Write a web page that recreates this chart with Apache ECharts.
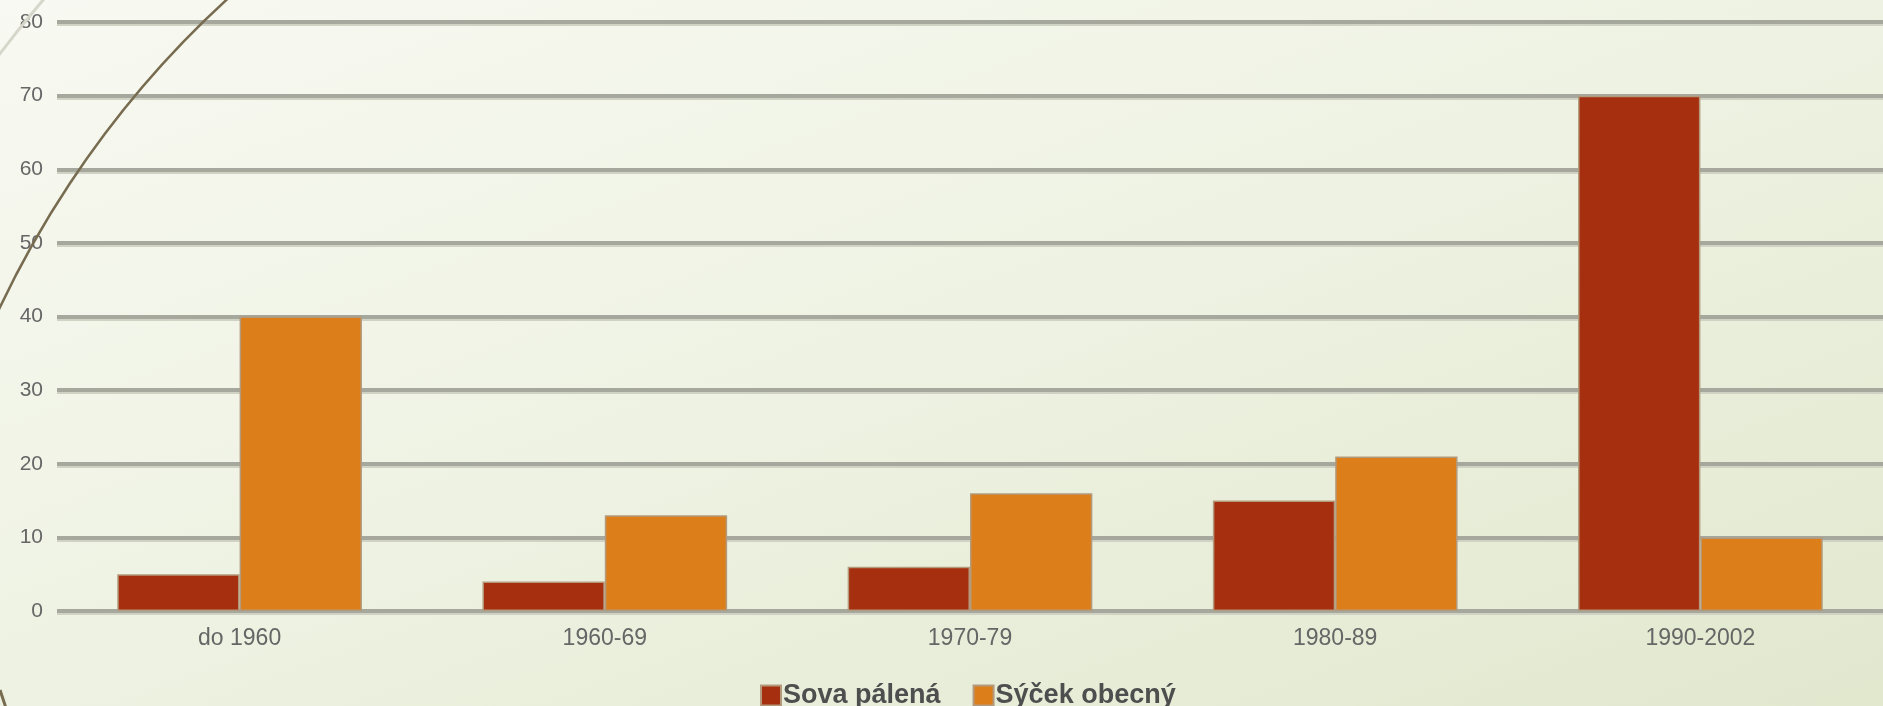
<!DOCTYPE html>
<html>
<head>
<meta charset="utf-8">
<style>
html,body{margin:0;padding:0;width:1883px;height:706px;overflow:hidden;}
body{background:linear-gradient(160deg,#f8f9f2 0%,#eef2e2 50%,#e1e8ce 100%);}
#chart{width:1883px;height:706px;}
</style>
<script src="https://cdn.jsdelivr.net/npm/echarts@6/dist/echarts.min.js"></script>
</head>
<body>
<div id="chart"></div>
<script>
const categories = ['do 1960', '1960-69', '1970-79', '1980-89', '1990-2002'];
const sovaPalena = [5, 4, 6, 15, 70];
const sycekObecny = [40, 13, 16, 21, 10];
const seriesNames = ['Sova pálená', 'Sýček obecný'];

const chart = echarts.init(document.getElementById('chart'), null, {renderer: 'canvas'});
const font = '"Liberation Sans", Arial, sans-serif';
chart.setOption({
  backgroundColor: 'transparent',
  animation: false,
  grid: {left: 57, right: -15, top: 22, bottom: 95, containLabel: false},
  legend: {
    left: 755, top: 677,
    itemWidth: 20, itemHeight: 20, itemGap: 32,
    icon: 'rect',
    textStyle: {fontFamily: font, fontSize: 27, fontWeight: 'bold', color: '#4e4e4e', padding: [0,0,0,-3]},
    data: seriesNames
  },
  xAxis: {
    type: 'category',
    data: categories,
    axisLine: {show: false},
    axisTick: {show: false},
    axisLabel: {fontFamily: font, fontSize: 23, color: '#666', margin: 16}
  },
  yAxis: {
    type: 'value',
    min: 0, max: 80, interval: 10,
    axisLine: {show: false},
    axisTick: {show: false},
    axisLabel: {fontFamily: font, fontSize: 21, color: '#666', margin: 14},
    splitLine: {lineStyle: {color: '#a6a79d', width: 4, shadowColor: '#d0d2c4', shadowOffsetY: 2, shadowBlur: 0}}
  },
  series: [
    {
      name: seriesNames[0], type: 'bar', data: sovaPalena,
      barGap: '0%', barCategoryGap: '33%',
      itemStyle: {color: '#a52f0f', borderColor: '#b39a7c', borderWidth: 1.5}
    },
    {
      name: seriesNames[1], type: 'bar', data: sycekObecny,
      barGap: '0%', barCategoryGap: '33%',
      itemStyle: {color: '#dc7e1a', borderColor: '#b39a7c', borderWidth: 1.5}
    }
  ],
  graphic: [
    {type: 'arc', silent: true, z: 100,
     shape: {cx: 897, cy: 731, r: 992, startAngle: Math.PI * 175 / 180, endAngle: Math.PI * 252 / 180, clockwise: true},
     style: {stroke: '#776b50', lineWidth: 2.5, fill: null}},
    {type: 'arc', silent: true, z: 100,
     shape: {cx: 897, cy: 731, r: 1124, startAngle: Math.PI * 200 / 180, endAngle: Math.PI * 240 / 180, clockwise: true},
     style: {stroke: '#d6d7ca', lineWidth: 3, fill: null}},
    {type: 'line', silent: true, z: 100,
     shape: {x1: 0, y1: 690, x2: 6, y2: 708},
     style: {stroke: '#776b50', lineWidth: 3}}
  ]
});
</script>
</body>
</html>
